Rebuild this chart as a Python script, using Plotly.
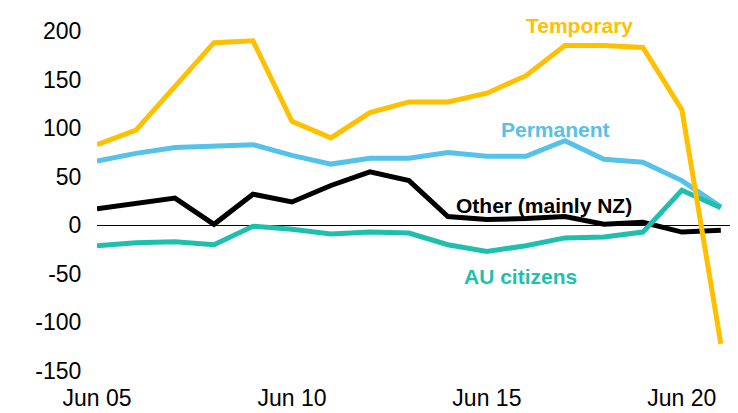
import plotly.graph_objects as go

years = list(range(2005, 2022))
temporary = [83, 98, 143, 188, 190, 107, 90, 116, 127, 127, 136, 154, 185, 185, 183, 119, -122]
permanent = [66, 74, 80, 81, 83, 72, 63, 69, 69, 75, 71, 71, 87, 68, 65, 46, 19]
other = [17, 22, 28, 1, 32, 24, 41, 55, 46, 9, 6, 7, 9, 1, 3, -7, -5]
au_citizens = [-21, -18, -17, -20, -1, -4, -9, -7, -8, -20, -27, -21, -13, -12, -7, 36, 18]

tick_years = [2005, 2010, 2015, 2020]
tick_text = ["Jun 05", "Jun 10", "Jun 15", "Jun 20"]
y_ticks = [-150, -100, -50, 0, 50, 100, 150, 200]
y_tick_text = ["-150", "-100", "-50", "0", "50", "100", "150", "200"]

C_TEMP = "#FFC000"
C_PERM = "#56C1E9"
C_OTHER = "#000000"
C_AU = "#1FBFAE"

fig = go.Figure()
for name, vals, col in [
    ("Other (mainly NZ)", other, C_OTHER),
    ("Permanent", permanent, C_PERM),
    ("AU citizens", au_citizens, C_AU),
    ("Temporary", temporary, C_TEMP),
]:
    fig.add_trace(go.Scatter(x=years, y=vals, mode="lines", name=name,
                             line=dict(color=col, width=5), cliponaxis=False))

# label positions in paper coordinates (x: 0..1 across plot, y: 0..1 up)
labels = [
    ("Temporary", 0.753, 1.015, C_TEMP),
    ("Permanent", 0.716, 0.709, C_PERM),
    ("Other (mainly NZ)", 0.697, 0.488, C_OTHER),
    ("AU citizens", 0.660, 0.278, C_AU),
]
for txt, x, y, col in labels:
    fig.add_annotation(x=x, y=y, xref="paper", yref="paper", text="<b>%s</b>" % txt,
                       showarrow=False,
                       font=dict(family="Liberation Sans, Arial, sans-serif", size=21, color=col),
                       xanchor="center", yanchor="middle")

# the page places the figure 8px in from the top-left corner
fig.update_layout(
    width=730, height=405,
    margin=dict(l=89, r=0, t=23, b=42, autoexpand=False),
    paper_bgcolor="white", plot_bgcolor="white",
    showlegend=False,
    font=dict(family="Liberation Sans, Arial, sans-serif", size=23, color="black"),
    xaxis=dict(range=[2005, 2021.44], tickvals=tick_years, ticktext=tick_text,
               showgrid=False, zeroline=False, showline=False, automargin=False,
               ticks="outside", ticklen=6, tickcolor="rgba(0,0,0,0)"),
    yaxis=dict(range=[-150, 200], tickvals=y_ticks, ticktext=y_tick_text, showgrid=False,
               zeroline=True, zerolinecolor="black", zerolinewidth=1, automargin=False,
               showline=False, ticks="outside", ticklen=10, tickcolor="rgba(0,0,0,0)"),
)

fig.write_html("out.html")
